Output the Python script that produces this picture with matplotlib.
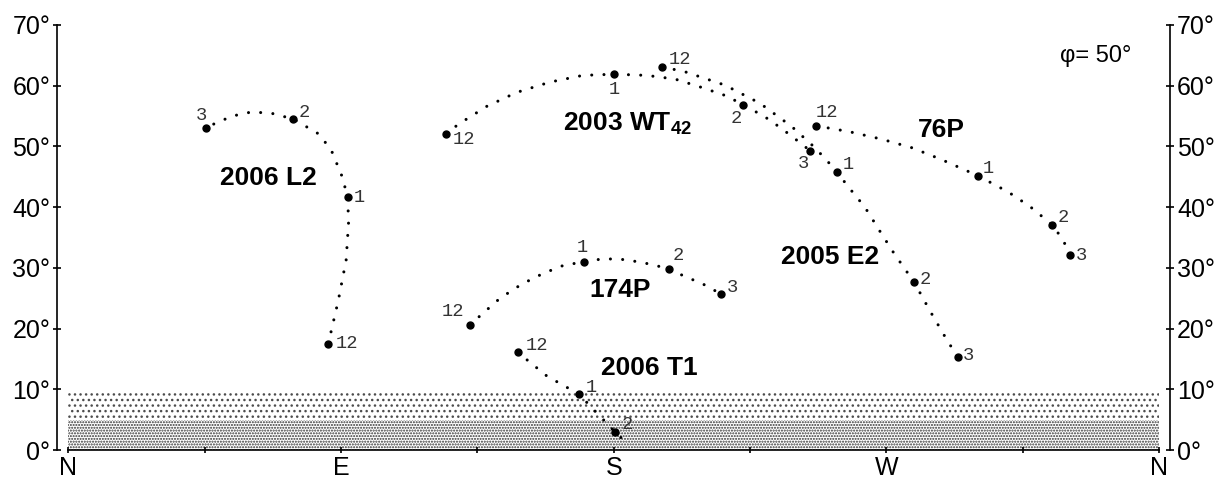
import matplotlib
matplotlib.use("Agg")
import matplotlib.pyplot as plt
import numpy as np

plt.rcParams['font.family'] = ['Liberation Sans', 'DejaVu Sans']
plt.rcParams['mathtext.fontset'] = 'custom'
plt.rcParams['mathtext.rm'] = 'Liberation Sans'
plt.rcParams['mathtext.bf'] = 'Liberation Sans:bold'
plt.rcParams['hatch.linewidth'] = 1.0

# azimuth (deg from N through E) / altitude (deg)
l2_az = [85.8, 89.1, 91.7, 92.5, 92.2, 90.4, 86.7, 82.5, 74.3, 67.6, 60.7, 54.1, 45.3]
l2_alt = [17.5, 24.6, 31.3, 37.5, 41.6, 45.0, 49.5, 52.1, 54.5, 55.4, 55.7, 55.0, 53.1]
l2_hour_az = [85.8, 92.2, 74.3, 45.3]
l2_hour_alt = [17.5, 41.6, 54.5, 53.1]

wt42_az = [124.7, 128.9, 138.1, 148.0, 159.0, 169.8, 180.2, 190.9, 200.2, 208.5, 216.2, 222.8, 231.4, 238.2, 244.8]
wt42_alt = [52.1, 53.7, 56.6, 58.9, 60.6, 61.7, 61.9, 61.7, 61.1, 59.8, 58.5, 56.9, 54.4, 51.9, 49.3]
wt42_hour_az = [124.7, 180.2, 222.8, 244.8]
wt42_hour_alt = [52.1, 61.9, 56.9, 49.3]

e2_az = [196.0, 203.5, 216.7, 228.3, 238.7, 246.4, 253.8, 256.7, 262.9, 267.9, 272.5, 279.2, 284.4, 289.3, 293.5]
e2_alt = [63.1, 62.3, 60.1, 57.1, 53.3, 49.8, 45.8, 43.8, 40.0, 36.0, 32.4, 27.6, 22.9, 18.7, 15.3]
e2_hour_az = [196.0, 253.8, 279.2, 293.5]
e2_hour_alt = [63.1, 45.8, 27.6, 15.3]

p76_az = [246.8, 258.0, 268.4, 278.3, 287.9, 300.1, 310.2, 317.4, 324.7, 328.3, 330.6]
p76_alt = [53.4, 52.4, 51.2, 49.8, 47.9, 45.2, 42.5, 40.1, 37.1, 34.6, 32.1]
p76_hour_az = [246.8, 300.1, 324.7, 330.6]
p76_hour_alt = [53.4, 45.2, 37.1, 32.1]

p174_az = [132.6, 135.9, 142.5, 149.6, 156.8, 163.4, 170.2, 176.6, 182.6, 188.1, 193.1, 198.2, 203.0, 209.6, 215.4]
p174_alt = [20.6, 22.1, 25.0, 27.3, 29.1, 30.4, 31.0, 31.5, 31.4, 31.0, 30.5, 29.8, 28.7, 27.3, 25.7]
p174_hour_az = [132.6, 170.2, 198.2, 215.4]
p174_hour_alt = [20.6, 31.0, 29.8, 25.7]

t1_az = [148.3, 157.9, 168.5, 180.4, 185.2]
t1_alt = [16.1, 12.2, 9.2, 3.0, 0.7]
t1_hour_az = [148.3, 168.5, 180.4]
t1_hour_alt = [16.1, 9.2, 3.0]

hours = ['12', '1', '2', '3']

names = ['2006 L2', '2003 WT$_{\\mathbf{42}}$', '2005 E2', '76P', '174P', '2006 T1']
name_az = [65.9, 163.3, 251.4, 288.2, 182.1, 191.8]
name_alt = [44.8, 52.6, 31.8, 52.7, 26.4, 13.5]

dir_ticks = [0, 45, 90, 135, 180, 225, 270, 315, 360]
dir_labels = ['N', '', 'E', '', 'S', '', 'W', '', 'N']
alt_ticks = [0, 10, 20, 30, 40, 50, 60, 70]
band_low = [0, 5]
band_high = [5, 9.5]

fig = plt.figure(figsize=(12.29, 4.83), dpi=100)
ax = fig.add_axes([57.3 / 1229, 33 / 483, 1112.7 / 1229, 425 / 483])
ax.set_xlim(-3.63, 363.6)
ax.set_ylim(0, 70)

# horizon haze bands
ax.fill_between([0, 360], band_low[0], band_high[0], facecolor='white',
                edgecolor='0.2', hatch='......', linewidth=0)
ax.fill_between([0, 360], band_low[1], band_high[1], facecolor='white',
                edgecolor='0.3', hatch='...', linewidth=0)

paths = [(l2_az, l2_alt), (wt42_az, wt42_alt), (e2_az, e2_alt),
         (p76_az, p76_alt), (p174_az, p174_alt), (t1_az, t1_alt)]
marks = [(l2_hour_az, l2_hour_alt), (wt42_hour_az, wt42_hour_alt),
         (e2_hour_az, e2_hour_alt), (p76_hour_az, p76_hour_alt),
         (p174_hour_az, p174_hour_alt), (t1_hour_az, t1_hour_alt)]

# label offsets (points) and alignment per hour mark
offsets = [
    [(5, 0, 'left'), (4, 0, 'left'), (3.5, 5, 'left'), (-3, 9, 'center')],
    [(5, -4, 'left'), (0, -11, 'center'), (-5, -10, 'center'), (-5, -9, 'center')],
    [(5, 5, 'left'), (4, 5, 'left'), (4, 2, 'left'), (4, 1, 'left')],
    [(0, 9.5, 'left'), (4, 5, 'left'), (4, 5, 'left'), (4, 0, 'left')],
    [(-4, 9.5, 'right'), (-1, 10, 'center'), (2.5, 9.5, 'left'), (4, 4.5, 'left')],
    [(6, 5, 'left'), (5, 5, 'left'), (5, 5, 'left')],
]

for (px, py), (mx, my), offs in zip(paths, marks, offsets):
    ax.plot(px, py, color='black', linewidth=2.2,
            linestyle=(0, (0.01, 4.0)), dash_capstyle='round')
    ax.plot(mx, my, 'o', color='black', markersize=5)
    for x, y, h, (dx, dy, ha) in zip(mx, my, hours, offs):
        ax.annotate(h, (x, y), xytext=(dx, dy), textcoords='offset points',
                    ha=ha, va='center', fontsize=13.5, color='#333333',
                    family='Liberation Mono')

for i, (n, x, y) in enumerate(zip(names, name_az, name_alt)):
    if i == 1:
        ax.text(x, y, n, ha='left', va='baseline', fontsize=19, fontweight='bold')
    else:
        ax.text(x, y, n, ha='center', va='center', fontsize=19, fontweight='bold')

ax.text(327.3, 64.9, 'φ= 50°', ha='left', va='center', fontsize=17)

ax.spines['top'].set_visible(False)
ax.spines['bottom'].set_bounds(0, 360)
for s in ['left', 'right', 'bottom']:
    ax.spines[s].set_linewidth(1.2)

ax.set_xticks(dir_ticks)
ax.set_xticklabels(dir_labels)
ax.set_yticks(alt_ticks)
ax.set_yticklabels([f'{a}°' for a in alt_ticks])
ax.tick_params(axis='x', direction='inout', length=5, width=1.2, labelsize=18, pad=2)
ax.tick_params(axis='y', direction='inout', length=6, width=1.2, labelsize=18,
               pad=2, right=True, labelright=True)

fig.savefig('out.png', dpi=100)
